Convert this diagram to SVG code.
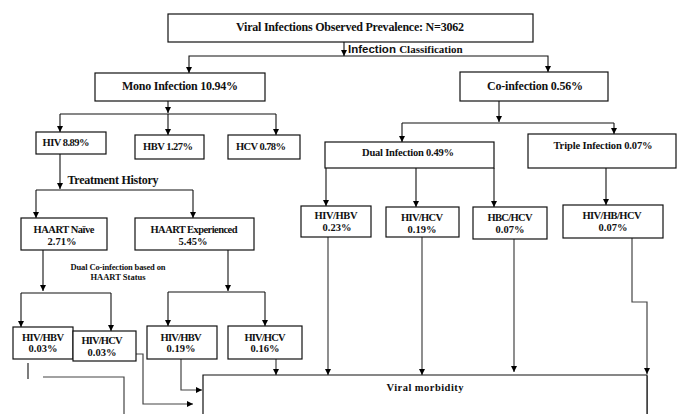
<svg xmlns="http://www.w3.org/2000/svg" width="678" height="414" viewBox="0 0 678 414">
<style>
.b{fill:#fff;stroke:#111;stroke-width:1.2}
.t{font-family:"Liberation Serif",serif;font-weight:bold;fill:#111;text-anchor:middle}
.m{font-size:12px}
.s{font-size:10.5px}
.x{font-size:8.5px}
.c{fill:none;stroke:#111;stroke-width:1.1}
.g{fill:none;stroke:#444;stroke-width:1.2}
.a{marker-end:url(#ah)}
</style>
<defs>
<marker id="ah" markerUnits="userSpaceOnUse" markerWidth="7" markerHeight="7" refX="6" refY="3" orient="auto">
<path d="M0,0 L6,3 L0,6 z" fill="#000"/>
</marker>
</defs>
<rect width="678" height="414" fill="#fff"/>

<g id="connectors">
<path class="c a" d="M344,42 V56"/>
<path class="c a" d="M344,56 H189 V73"/>
<path class="c a" d="M344,56 H548 V72"/>
<path class="c a" d="M168,101 V113"/>
<path class="c" d="M60,114 H276"/>
<path class="c a" d="M60,114 V132"/>
<path class="c a" d="M168,114 V135"/>
<path class="c a" d="M276,114 V135"/>
<path class="c a" d="M499,101 V122"/>
<path class="c" d="M402,123 H614"/>
<path class="c a" d="M402,123 V142"/>
<path class="c a" d="M614,123 V134"/>
<path class="c a" d="M326,168 V206"/>
<path class="c a" d="M416,168 V207"/>
<path class="c a" d="M494,168 V207"/>
<path class="c a" d="M606,168 V205"/>
<path class="g a" d="M328,237 V375"/>
<path class="g a" d="M422,237 V375"/>
<path class="g a" d="M514,239 V372"/>
<path class="g a" d="M632,238 V302 H647 V374"/>
<path class="g" d="M647,376 V414"/>
<path class="c a" d="M60,154 V189"/>
<path class="c" d="M36,190 H193"/>
<path class="c a" d="M36,190 V218"/>
<path class="c a" d="M193,190 V218"/>
<path class="c a" d="M43,250 V291"/>
<path class="c" d="M21,293 H111"/>
<path class="c a" d="M21,293 V327"/>
<path class="c a" d="M111,293 V331"/>
<path class="c a" d="M228,250 V291"/>
<path class="c" d="M168,292 H265"/>
<path class="c a" d="M168,292 V326"/>
<path class="c a" d="M265,292 V326"/>
<path class="c" d="M28,363 V379"/>
<path class="g" d="M43,377 H124 V414"/>
<path class="g a" d="M113,354 H143 V404 H193"/>
<path class="g a" d="M181,359 V390 H202"/>
<path class="g a" d="M276,359 V375"/>
</g>

<g id="title">
<rect class="b" x="168" y="14" width="365" height="28"/>
<text class="t m" x="350" y="31" textLength="228">Viral Infections Observed Prevalence: N=3062</text>
</g>
<g id="classification-label">
<text x="348" y="53" font-family="Liberation Sans,sans-serif" font-weight="bold" font-size="11.5" fill="#111">Infection <tspan font-family="Liberation Serif,serif" font-size="11">Classification</tspan></text>
</g>
<g id="mono">
<rect class="b" x="95" y="73" width="170" height="28"/>
<text class="t m" x="180" y="90" textLength="116">Mono Infection 10.94%</text>
</g>
<g id="co">
<rect class="b" x="460" y="72" width="148" height="29"/>
<text class="t m" x="535" y="90" textLength="96">Co-infection 0.56%</text>
</g>
<g id="hiv">
<rect class="b" x="36" y="132" width="70" height="22"/>
<text class="t s" x="66" y="146" textLength="47">HIV 8.89%</text>
</g>
<g id="hbv">
<rect class="b" x="135" y="135" width="69" height="24"/>
<text class="t s" x="168" y="150" textLength="50">HBV 1.27%</text>
</g>
<g id="hcv">
<rect class="b" x="228" y="135" width="72" height="24"/>
<text class="t s" x="261" y="150" textLength="50">HCV 0.78%</text>
</g>
<g id="treatment-label">
<text class="t m" x="113" y="184" textLength="91">Treatment History</text>
</g>
<g id="naive">
<rect class="b" x="21" y="218" width="86" height="32"/>
<text class="t s" x="64" y="233" textLength="61">HAART Naïve</text>
<text class="t s" x="62" y="245">2.71%</text>
</g>
<g id="experienced">
<rect class="b" x="135" y="218" width="119" height="32"/>
<text class="t s" x="194" y="233" textLength="87">HAART Experienced</text>
<text class="t s" x="193" y="245">5.45%</text>
</g>
<g id="haart-status-label">
<text class="t x" x="118" y="270" textLength="95">Dual Co-infection based on</text>
<text class="t x" x="118" y="280">HAART Status</text>
</g>
<g id="dual">
<rect class="b" x="325" y="142" width="169" height="26"/>
<text class="t s" x="408" y="156" textLength="92">Dual Infection 0.49%</text>
</g>
<g id="triple">
<rect class="b" x="528" y="134" width="148" height="34"/>
<text class="t s" x="603" y="149" textLength="99">Triple Infection 0.07%</text>
</g>
<g id="d-hivhbv">
<rect class="b" x="301" y="206" width="70" height="31"/>
<text class="t s" x="336" y="219" textLength="43">HIV/HBV</text>
<text class="t s" x="337" y="231">0.23%</text>
</g>
<g id="d-hivhcv">
<rect class="b" x="386" y="207" width="73" height="30"/>
<text class="t s" x="422" y="221" textLength="42">HIV/HCV</text>
<text class="t s" x="422" y="233">0.19%</text>
</g>
<g id="d-hbchcv">
<rect class="b" x="473" y="207" width="74" height="32"/>
<text class="t s" x="510" y="221" textLength="45">HBC/HCV</text>
<text class="t s" x="510" y="233">0.07%</text>
</g>
<g id="t-hivhbhcv">
<rect class="b" x="563" y="205" width="100" height="33"/>
<text class="t s" x="612" y="219" textLength="59">HIV/HB/HCV</text>
<text class="t s" x="613" y="231">0.07%</text>
</g>
<g id="n-hivhbv">
<rect class="b" x="13" y="327" width="60" height="32"/>
<text class="t s" x="43" y="341" textLength="42">HIV/HBV</text>
<text class="t s" x="43" y="352">0.03%</text>
</g>
<g id="n-hivhcv">
<rect class="b" x="73" y="331" width="63" height="30"/>
<text class="t s" x="102" y="344" textLength="41">HIV/HCV</text>
<text class="t s" x="102" y="356">0.03%</text>
</g>
<g id="e-hivhbv">
<rect class="b" x="147" y="326" width="70" height="33"/>
<text class="t s" x="181" y="341" textLength="41">HIV/HBV</text>
<text class="t s" x="181" y="352">0.19%</text>
</g>
<g id="e-hivhcv">
<rect class="b" x="228" y="326" width="74" height="33"/>
<text class="t s" x="265" y="341" textLength="41">HIV/HCV</text>
<text class="t s" x="265" y="352">0.16%</text>
</g>
<g id="morbidity">
<path class="b" d="M203,415 V375 H647 V415"/>
<text class="t s" x="425" y="391" textLength="77">Viral morbidity</text>
</g>
</svg>
